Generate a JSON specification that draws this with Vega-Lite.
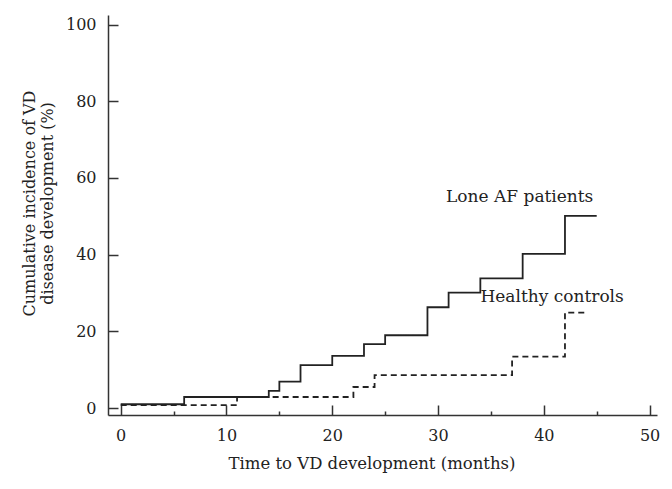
{
  "$schema": "https://vega.github.io/schema/vega-lite/v6.json",
  "width": 549,
  "height": 400,
  "autosize": "none",
  "padding": {"left": 108, "top": 15, "right": 15, "bottom": 74},
  "background": "white",
  "config": {
    "view": {"stroke": null},
    "font": "DejaVu Serif",
    "axis": {"grid": false, "domainColor": "#333", "domainWidth": 1.5, "tickColor": "#333", "tickWidth": 1.5, "labelColor": "#222", "titleColor": "#222", "labelFont": "DejaVu Serif", "titleFont": "DejaVu Serif", "titleFontWeight": "normal", "labelFontSize": 16, "titleFontSize": 16}
  },
  "datasets": {
    "km": [
      {"time": 0, "pct": 1.0, "group": "Lone AF patients"},
      {"time": 6, "pct": 2.9, "group": "Lone AF patients"},
      {"time": 14, "pct": 4.5, "group": "Lone AF patients"},
      {"time": 15, "pct": 6.9, "group": "Lone AF patients"},
      {"time": 17, "pct": 11.2, "group": "Lone AF patients"},
      {"time": 20, "pct": 13.6, "group": "Lone AF patients"},
      {"time": 23, "pct": 16.7, "group": "Lone AF patients"},
      {"time": 25, "pct": 19.0, "group": "Lone AF patients"},
      {"time": 29, "pct": 26.3, "group": "Lone AF patients"},
      {"time": 31, "pct": 30.1, "group": "Lone AF patients"},
      {"time": 34, "pct": 33.8, "group": "Lone AF patients"},
      {"time": 38, "pct": 40.2, "group": "Lone AF patients"},
      {"time": 42, "pct": 50.1, "group": "Lone AF patients"},
      {"time": 45, "pct": 50.1, "group": "Lone AF patients"},
      {"time": 0, "pct": 0.8, "group": "Healthy controls"},
      {"time": 11, "pct": 2.9, "group": "Healthy controls"},
      {"time": 22, "pct": 5.5, "group": "Healthy controls"},
      {"time": 24, "pct": 8.6, "group": "Healthy controls"},
      {"time": 37, "pct": 13.4, "group": "Healthy controls"},
      {"time": 42, "pct": 24.9, "group": "Healthy controls"},
      {"time": 44, "pct": 24.9, "group": "Healthy controls"}
    ]
  },
  "data": {"name": "km"},
  "layer": [
    {
      "mark": {"type": "line", "interpolate": "step-after", "strokeWidth": 1.8, "color": "#222"},
      "encoding": {
        "x": {
          "field": "time", "type": "quantitative",
          "scale": {"domain": [-1.2, 50.7], "nice": false, "zero": false},
          "axis": {
            "title": "Time to VD development (months)",
            "titleFontSize": 16.5,
            "titleX": 263.5,
            "values": [0, 5, 10, 15, 20, 25, 30, 35, 40, 45, 50],
            "labelExpr": "datum.value % 10 === 0 ? datum.label : ''",
            "tickSize": {"condition": {"test": "datum.value % 10 === 0", "value": -10}, "value": -4},
            "labelPadding": 22,
            "titlePadding": 12
          }
        },
        "y": {
          "field": "pct", "type": "quantitative",
          "scale": {"domain": [-1.8, 102.5], "nice": false, "zero": false},
          "axis": {
            "title": ["Cumulative incidence of VD", "disease development (%)"],
            "titleY": 188,
            "values": [0, 10, 20, 30, 40, 50, 60, 70, 80, 90, 100],
            "labelExpr": "datum.value % 20 === 0 ? datum.label : ''",
            "tickSize": -10,
            "labelPadding": 22,
            "titlePadding": 10
          }
        },
        "detail": {"field": "group"},
        "strokeDash": {
          "field": "group", "type": "nominal",
          "scale": {"domain": ["Lone AF patients", "Healthy controls"], "range": [[1, 0], [6, 4]]},
          "legend": null
        }
      }
    },
    {
      "transform": [
        {"joinaggregate": [{"op": "max", "field": "time", "as": "tmax"}], "groupby": ["group"]},
        {"filter": "datum.time === datum.tmax && datum.group === 'Lone AF patients'"}
      ],
      "mark": {"type": "text", "font": "DejaVu Serif", "fontSize": 17, "color": "#222", "dx": -77, "dy": -19, "align": "center", "baseline": "middle"},
      "encoding": {
        "x": {"field": "time", "type": "quantitative"},
        "y": {"field": "pct", "type": "quantitative"},
        "text": {"field": "group"}
      }
    },
    {
      "transform": [
        {"joinaggregate": [{"op": "max", "field": "time", "as": "tmax"}], "groupby": ["group"]},
        {"filter": "datum.time === datum.tmax && datum.group === 'Healthy controls'"}
      ],
      "mark": {"type": "text", "font": "DejaVu Serif", "fontSize": 17, "color": "#222", "dx": -34, "dy": -16, "align": "center", "baseline": "middle"},
      "encoding": {
        "x": {"field": "time", "type": "quantitative"},
        "y": {"field": "pct", "type": "quantitative"},
        "text": {"field": "group"}
      }
    }
  ]
}
